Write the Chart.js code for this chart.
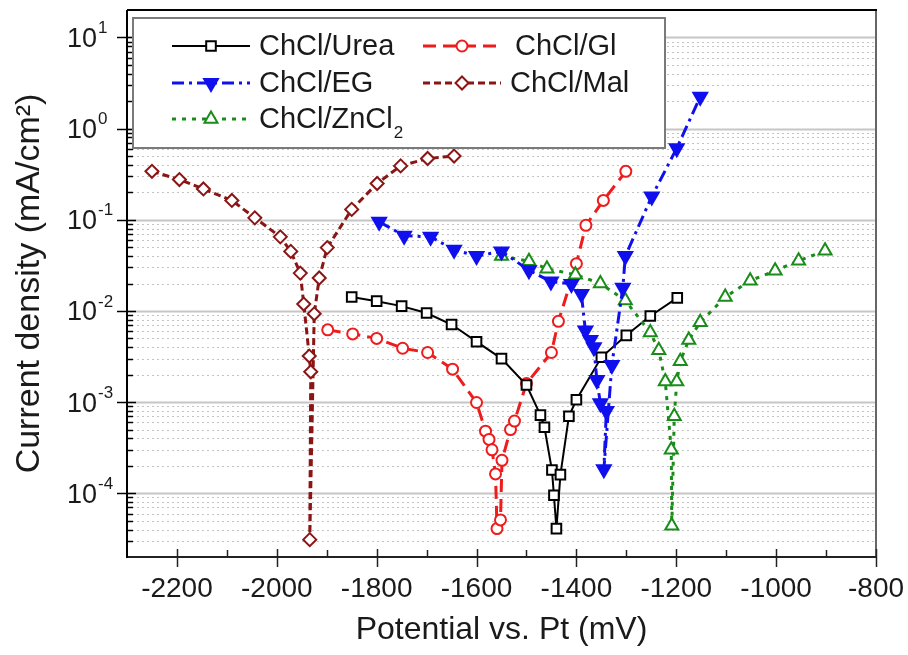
<!DOCTYPE html>
<html>
<head>
<meta charset="utf-8">
<script src="https://cdn.jsdelivr.net/npm/chart.js@4.4.1/dist/chart.umd.min.js"></script>
<style>
html,body{margin:0;padding:0;background:#ffffff;}
#wrap{width:908px;height:655px;position:relative;}
</style>
</head>
<body>
<div id="wrap"><canvas id="c" width="908" height="655"></canvas></div>
<script>
// ---------- data ----------
const seriesNames = ['ChCl/Urea', 'ChCl/Gl', 'ChCl/EG', 'ChCl/Mal', 'ChCl/ZnCl2'];
const xTickValues = [-2200, -2000, -1800, -1600, -1400, -1200, -1000, -800];
const xMinorTickValues = [-2100, -1900, -1700, -1500, -1300, -1100, -900];
const yTickExponents = [1, 0, -1, -2, -3, -4];

const ureaPotential = [-1850,-1800,-1750,-1700,-1650,-1600,-1550,-1500,-1472,-1464,-1449,-1445,-1440,-1432,-1415,-1400,-1350,-1300,-1252,-1198];
const ureaCurrent   = [0.0142,0.0128,0.0113,0.0095,0.0071,0.0046,0.0030,0.00154,0.00072,0.00053,0.00018,0.000095,0.000041,0.00016,0.0007,0.00106,0.0031,0.0054,0.0088,0.0139];

const glPotential = [-1898,-1848,-1800,-1748,-1698,-1648,-1600,-1582,-1575,-1569,-1562,-1559,-1552,-1549,-1532,-1524,-1500,-1450,-1436,-1400,-1381,-1346,-1301];
const glCurrent   = [0.0062,0.0056,0.0050,0.0039,0.0035,0.0023,0.00099,0.00048,0.00039,0.00030,0.000163,0.000041,0.000051,0.00023,0.00050,0.00062,0.0016,0.0035,0.0077,0.033,0.087,0.163,0.34];

const egPotential = [-1795,-1745,-1692,-1645,-1600,-1550,-1495,-1451,-1410,-1390,-1382,-1372,-1365,-1359,-1352,-1340,-1345,-1329,-1307,-1302,-1249,-1199,-1152];
const egCurrent   = [0.095,0.067,0.065,0.047,0.040,0.045,0.028,0.021,0.0198,0.0153,0.0061,0.0048,0.0040,0.00175,0.00097,0.00080,0.000183,0.00255,0.018,0.040,0.18,0.61,2.23];

const malPotential = [-2250,-2195,-2147,-2090,-2044,-1993,-1972,-1953,-1946,-1935,-1932,-1934,-1925,-1915,-1899,-1850,-1799,-1752,-1698,-1645];
const malCurrent   = [0.34,0.276,0.218,0.163,0.105,0.065,0.045,0.026,0.0119,0.0032,0.00215,0.000031,0.0093,0.023,0.0495,0.13,0.25,0.39,0.47,0.50];

const znPotential = [-1550,-1495,-1459,-1402,-1352,-1302,-1252,-1235,-1222,-1210,-1209,-1204,-1199,-1192,-1175,-1152,-1102,-1052,-1002,-955,-902];
const znCurrent   = [0.040,0.035,0.029,0.025,0.020,0.013,0.0058,0.0037,0.00168,0.00030,0.000044,0.0007,0.00168,0.0028,0.0048,0.0075,0.0142,0.0215,0.0276,0.0355,0.0457];

// ---------- styling ----------
const FONT = "'Liberation Sans', Arial, Helvetica, sans-serif";
const styles = [
  {color:'#000000', dash:[],            width:2,   point:'square',   fill:'#ffffff', r:4.8},
  {color:'#ee1c1c', dash:[13,7],        width:3,   point:'circle',   fill:'#ffffff', r:5.5},
  {color:'#1010ee', dash:[12,5,3,5],    width:3,   point:'triDown',  fill:'#1010ee', r:8},
  {color:'#8b1515', dash:[7,4],         width:3,   point:'diamond',  fill:'#ffffff', r:6.5},
  {color:'#1a8c1a', dash:[4,6],         width:3,   point:'triUp',    fill:'#ffffff', r:7.5}
];
const legendTextShift = [0, 5, 0, 0, 0];
const xs = [ureaPotential, glPotential, egPotential, malPotential, znPotential];
const ys = [ureaCurrent, glCurrent, egCurrent, malCurrent, znCurrent];

function pointStyleOf(s){
  if (s.point === 'square') return {pointStyle:'rect', rot:0, radius: s.r*1.414};
  if (s.point === 'circle') return {pointStyle:'circle', rot:0, radius: s.r};
  if (s.point === 'triDown') return {pointStyle:'triangle', rot:180, radius: s.r};
  if (s.point === 'triUp') return {pointStyle:'triangle', rot:0, radius: s.r};
  return {pointStyle:'rectRot', rot:0, radius: s.r};
}

const datasets = seriesNames.map((name, i) => {
  const s = styles[i], p = pointStyleOf(s);
  return {
    label: name,
    data: xs[i].map((x, j) => ({x: x, y: ys[i][j]})),
    showLine: true,
    borderColor: s.color,
    borderWidth: s.width,
    borderDash: s.dash,
    pointStyle: p.pointStyle,
    pointRotation: p.rot,
    pointRadius: p.radius,
    pointBorderWidth: 2,
    pointBorderColor: s.color,
    pointBackgroundColor: s.fill,
    tension: 0,
    order: [3,4,1,5,2][i]
  };
});

// ---------- marker drawing for legend ----------
function drawMarker(ctx, s, x, y){
  ctx.save();
  ctx.setLineDash([]);
  ctx.lineWidth = 2;
  ctx.strokeStyle = s.color;
  ctx.fillStyle = s.fill;
  ctx.beginPath();
  const r = s.r;
  if (s.point === 'square') { ctx.rect(x-r, y-r, 2*r, 2*r); }
  else if (s.point === 'circle') { ctx.arc(x, y, r, 0, Math.PI*2); }
  else if (s.point === 'diamond') { ctx.moveTo(x, y-r); ctx.lineTo(x+r, y); ctx.lineTo(x, y+r); ctx.lineTo(x-r, y); ctx.closePath(); }
  else if (s.point === 'triUp') { ctx.moveTo(x, y-r); ctx.lineTo(x+r*0.866, y+r*0.5); ctx.lineTo(x-r*0.866, y+r*0.5); ctx.closePath(); }
  else { ctx.moveTo(x, y+r); ctx.lineTo(x+r*0.866, y-r*0.5); ctx.lineTo(x-r*0.866, y-r*0.5); ctx.closePath(); }
  ctx.fill(); ctx.stroke();
  ctx.restore();
}

// ---------- plugins ----------
const gridPlugin = {
  id: 'logGrid',
  beforeDatasetsDraw(chart){
    const ctx = chart.ctx, sy = chart.scales.y, a = chart.chartArea;
    ctx.save();
    for (let e = -5; e <= 1; e++) {
      for (let k = 1; k <= 9; k++) {
        const v = k * Math.pow(10, e);
        if (v <= sy.min || v >= sy.max) continue;
        const py = Math.round(sy.getPixelForValue(v)) + 0.5;
        if (k === 1) { ctx.setLineDash([]); ctx.strokeStyle = '#c6c6c6'; ctx.lineWidth = 2; }
        else { ctx.setLineDash([2,3]); ctx.strokeStyle = '#c4c4c4'; ctx.lineWidth = 1; }
        ctx.beginPath(); ctx.moveTo(a.left, py); ctx.lineTo(a.right, py); ctx.stroke();
      }
    }
    ctx.restore();
  }
};

const framePlugin = {
  id: 'frameAndLegend',
  afterDraw(chart){
    const ctx = chart.ctx, sx = chart.scales.x, sy = chart.scales.y, a = chart.chartArea;
    ctx.save();
    ctx.setLineDash([]);
    // frame
    ctx.lineWidth = 2;
    ctx.strokeStyle = '#666666';
    ctx.beginPath(); ctx.moveTo(a.right, a.top); ctx.lineTo(a.right, a.bottom); ctx.stroke();
    ctx.strokeStyle = '#222222';
    ctx.beginPath(); ctx.moveTo(a.left, a.bottom); ctx.lineTo(a.right+1, a.bottom); ctx.stroke();
    ctx.strokeStyle = '#000000';
    ctx.beginPath(); ctx.moveTo(a.left, a.top); ctx.lineTo(a.right+1, a.top); ctx.stroke();
    ctx.beginPath(); ctx.moveTo(a.left, a.top); ctx.lineTo(a.left, a.bottom+1); ctx.stroke();

    // y ticks
    ctx.lineWidth = 1.5;
    ctx.strokeStyle = '#000000';
    for (let e = -5; e <= 1; e++) {
      for (let k = 1; k <= 9; k++) {
        const v = k * Math.pow(10, e);
        if (v <= sy.min || v >= sy.max) continue;
        const py = Math.round(sy.getPixelForValue(v)) + 0.5;
        ctx.beginPath();
        if (k === 1) { ctx.moveTo(a.left-10, py); ctx.lineTo(a.left+9, py); }
        else { ctx.moveTo(a.left, py); ctx.lineTo(a.left+6, py); }
        ctx.stroke();
      }
    }
    // x ticks
    ctx.strokeStyle = '#222222';
    xTickValues.forEach(v => {
      const px = Math.round(sx.getPixelForValue(v)) + 0.5;
      ctx.beginPath(); ctx.moveTo(px, a.bottom-8); ctx.lineTo(px, a.bottom+10); ctx.stroke();
    });
    xMinorTickValues.forEach(v => {
      const px = Math.round(sx.getPixelForValue(v)) + 0.5;
      ctx.beginPath(); ctx.moveTo(px, a.bottom-7); ctx.lineTo(px, a.bottom); ctx.stroke();
    });

    // y tick labels 10^n
    ctx.fillStyle = '#1a1a1a';
    yTickExponents.forEach(e => {
      const py = sy.getPixelForValue(Math.pow(10, e));
      ctx.font = '27px ' + FONT;
      ctx.textAlign = 'right';
      ctx.textBaseline = 'middle';
      ctx.fillText('10', a.left - 30, py + 2);
      ctx.font = '17px ' + FONT;
      ctx.textAlign = 'left';
      ctx.fillText(String(e), a.left - 29, py - 9);
    });

    // legend
    const bx = a.left + 6, by = a.top + 8, bw = 532, bh = 130;
    ctx.fillStyle = '#ffffff';
    ctx.fillRect(bx, by, bw, bh);
    ctx.lineWidth = 2;
    ctx.strokeStyle = '#7a7a7a';
    ctx.strokeRect(bx, by, bw, bh);
    const cols = [bx + 39, bx + 290];
    const rows = [by + 28, by + 65, by + 101];
    const slots = [[0,0],[1,0],[0,1],[1,1],[0,2]];
    seriesNames.forEach((name, i) => {
      const s = styles[i];
      const lx = cols[slots[i][0]], ly = rows[slots[i][1]];
      ctx.save();
      ctx.strokeStyle = s.color;
      ctx.lineWidth = s.width;
      ctx.setLineDash(s.dash);
      ctx.beginPath(); ctx.moveTo(lx, ly); ctx.lineTo(lx + 78, ly); ctx.stroke();
      ctx.restore();
      drawMarker(ctx, s, lx + 39, ly);
      ctx.fillStyle = '#1a1a1a';
      ctx.font = '29px ' + FONT;
      ctx.textAlign = 'left';
      ctx.textBaseline = 'middle';
      const tx = lx + 87 + legendTextShift[i];
      if (name.endsWith('2') && name.indexOf('ZnCl') >= 0) {
        const main = name.slice(0, -1);
        ctx.fillText(main, tx, ly + 1);
        const w = ctx.measureText(main).width;
        ctx.font = '17px ' + FONT;
        ctx.fillText('2', tx + w + 1, ly + 14);
      } else {
        ctx.fillText(name, tx, ly + 1);
      }
    });
    ctx.restore();
  }
};

// ---------- chart ----------
new Chart(document.getElementById('c'), {
  type: 'scatter',
  data: { datasets: datasets },
  options: {
    responsive: false,
    animation: false,
    devicePixelRatio: 1,
    layout: { padding: { top: 7, right: 32, left: 0, bottom: 0 } },
    plugins: { legend: { display: false }, tooltip: { enabled: false } },
    scales: {
      x: {
        type: 'linear',
        min: -2300, max: -800,
        afterBuildTicks: (s) => { s.ticks = xTickValues.map(v => ({value: v})); },
        afterFit: (s) => { s.height = 98; s.paddingLeft = 0; s.paddingRight = 0; },
        grid: { display: false, drawTicks: false },
        border: { display: false },
        ticks: {
          padding: 15,
          color: '#1a1a1a',
          font: { family: FONT, size: 28 },
          maxRotation: 0,
          autoSkip: false,
          callback: (v) => String(v)
        },
        title: {
          display: true,
          text: 'Potential vs. Pt (mV)',
          color: '#1a1a1a',
          font: { family: FONT, size: 32 },
          padding: { top: 0, bottom: 6 }
        }
      },
      y: {
        type: 'logarithmic',
        min: 2e-5, max: 20,
        afterFit: (s) => { s.width = 127; s.paddingTop = 0; s.paddingBottom = 0; },
        grid: { display: false, drawTicks: false },
        border: { display: false },
        ticks: { display: false },
        title: {
          display: true,
          text: 'Current density (mA/cm²)',
          color: '#1a1a1a',
          font: { family: FONT, size: 34 },
          padding: { top: 9, bottom: 0 }
        }
      }
    }
  },
  plugins: [gridPlugin, framePlugin]
});
</script>
</body>
</html>
